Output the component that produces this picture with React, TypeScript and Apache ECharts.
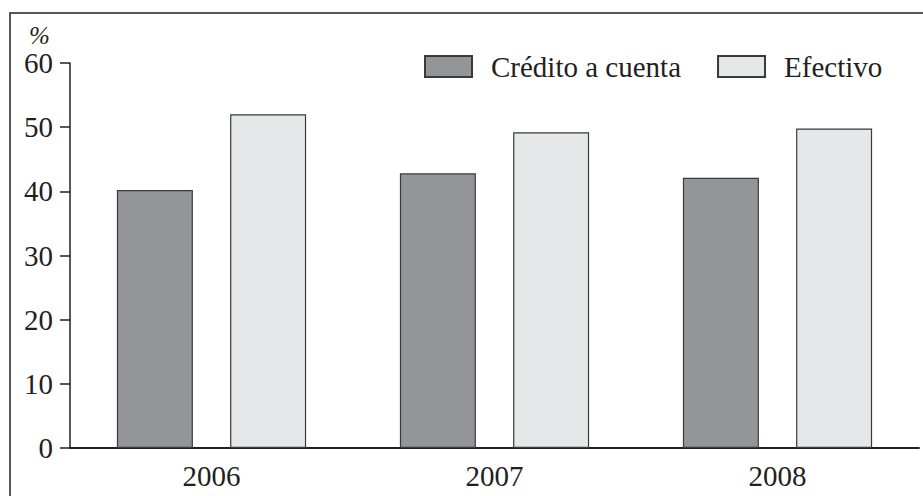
import React, { useEffect, useRef } from "react";
import * as echarts from "echarts";

const categories = ["2006", "2007", "2008"];
const credito = [40.2, 42.8, 42.1];
const efectivo = [52.0, 49.2, 49.8];
const seriesNames = ["Crédito a cuenta", "Efectivo"];

const FONT = "Liberation Serif";
const FS = 29;

export default function App() {
  const ref = useRef<HTMLDivElement>(null);
  useEffect(() => {
    if (!ref.current) return;
    const chart = echarts.init(ref.current, null, { renderer: "svg" });
    chart.setOption({
      animation: false,
      backgroundColor: "#ffffff",
      textStyle: { fontFamily: FONT, color: "#231f20" },
      grid: { left: 70, right: 4, top: 63, bottom: 48, containLabel: false },
      legend: {
        left: 424,
        top: 52,
        padding: 0,
        itemWidth: 47,
        itemHeight: 21,
        itemGap: 36,
        icon: "rect",
        textStyle: { fontFamily: FONT, fontSize: FS, color: "#231f20", padding: [0, 0, 0, 14] },
        data: seriesNames,
      },
      graphic: [
        {
          type: "polyline",
          shape: { points: [[10, 496], [10, 13], [923, 13]] },
          style: { stroke: "#231f20", lineWidth: 1.5, fill: "none" },
          silent: true,
        },
        {
          type: "text",
          left: 29,
          top: 23,
          style: { text: "%", font: `italic 25px ${FONT}`, fill: "#231f20" },
        },
      ],
      xAxis: {
        type: "category",
        data: categories,
        boundaryGap: true,
        axisLine: { lineStyle: { color: "#231f20", width: 2 } },
        axisTick: { length: 14, lineStyle: { color: "#231f20", width: 1.5 } },
        axisLabel: { fontFamily: FONT, fontSize: FS, color: "#231f20", margin: 13 },
      },
      yAxis: {
        type: "value",
        min: 0,
        max: 60,
        interval: 10,
        splitLine: { show: false },
        axisLine: { show: true, lineStyle: { color: "#231f20", width: 1.5 } },
        axisTick: { show: true, length: 10, lineStyle: { color: "#231f20", width: 1.5 } },
        axisLabel: { fontFamily: FONT, fontSize: FS, color: "#231f20", margin: 17 },
      },
      series: [
        {
          name: seriesNames[0],
          type: "bar",
          data: credito,
          barWidth: 76,
          barGap: "49%",
          itemStyle: { color: "#939598", borderColor: "#3a3a3a", borderWidth: 1.2 },
        },
        {
          name: seriesNames[1],
          type: "bar",
          data: efectivo,
          barWidth: 76,
          itemStyle: { color: "#e6e7e8", borderColor: "#3a3a3a", borderWidth: 1.2 },
        },
      ],
    });
    return () => chart.dispose();
  }, []);
  return <div ref={ref} style={{ width: 923, height: 496, position: "absolute", left: 0, top: 0 }} />;
}
